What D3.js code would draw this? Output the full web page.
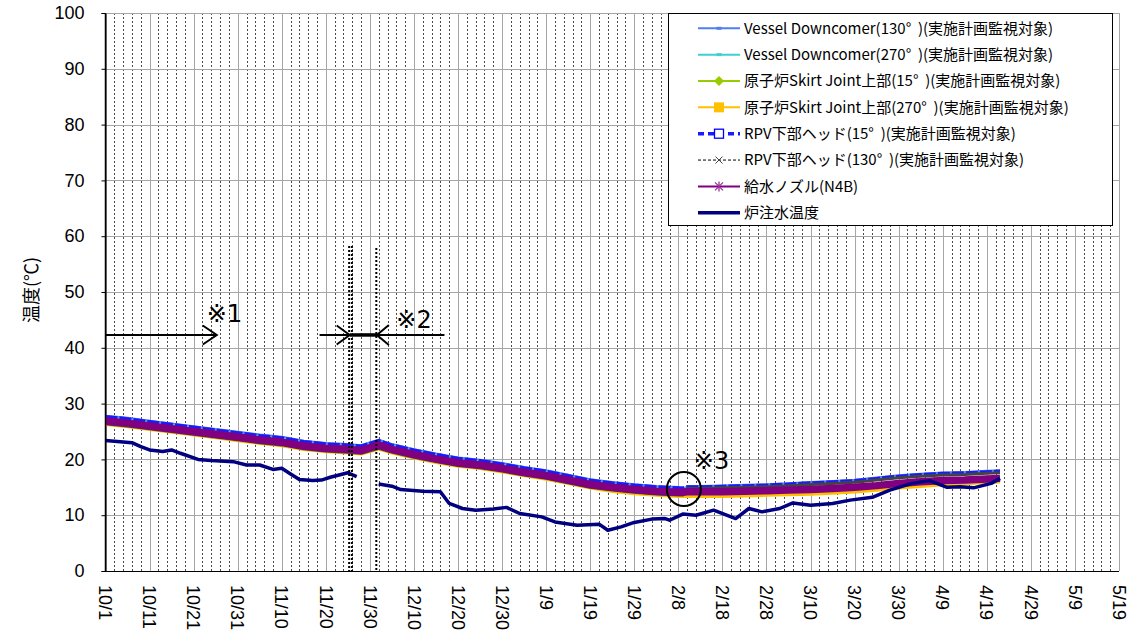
<!DOCTYPE html>
<html><head><meta charset="utf-8">
<script src="https://cdn.jsdelivr.net/npm/d3@7"></script>
<style>body{margin:0;background:#fff;} svg{display:block;}</style>
</head><body><svg id="c" width="1146" height="634"></svg>
<script>
// ---------------- DATA ----------------
const bandDates = ["10/1","10/6","10/11","10/16","10/21","10/26","10/31","11/5","11/10","11/15","11/20","11/25","11/28","12/2","12/5","12/10","12/15","12/20","12/25","12/30","1/4","1/9","1/14","1/19","1/24","1/29","2/3","2/8","2/9","2/10","2/13","2/18","2/23","2/28","3/5","3/10","3/15","3/20","3/25","3/30","4/4","4/9","4/14","4/19","4/22"];
const vessel130 = [27.8,27.4,26.9,26.4,25.9,25.4,24.9,24.4,24.0,23.3,22.9,22.7,22.5,23.5,22.7,21.8,21.0,20.3,19.9,19.3,18.6,18.0,17.2,16.4,15.9,15.5,15.2,15.0,14.2,15.2,15.2,15.3,15.4,15.5,15.7,15.9,16.1,16.3,16.7,17.1,17.4,17.6,17.7,17.9,18.0];
const vessel270 = [27.5,27.1,26.6,26.1,25.6,25.1,24.6,24.1,23.7,23.0,22.6,22.4,22.2,23.2,22.4,21.5,20.7,20.0,19.6,19.0,18.3,17.7,16.9,16.1,15.6,15.2,14.9,14.7,14.6,14.9,14.9,15.0,15.1,15.2,15.4,15.6,15.8,16.0,16.4,16.8,17.1,17.3,17.4,17.6,17.7];
const skirt15 = [26.6,26.2,25.7,25.2,24.7,24.2,23.7,23.2,22.8,22.1,21.7,21.5,21.3,22.3,21.5,20.6,19.8,19.1,18.7,18.1,17.4,16.8,16.0,15.2,14.7,14.3,14.0,13.8,13.8,13.9,13.9,13.9,14.0,14.1,14.2,14.3,14.5,14.7,15.0,15.4,15.7,15.9,16.0,16.2,16.3];
const skirt270 = [26.3,25.9,25.4,24.9,24.4,23.9,23.4,22.9,22.5,21.8,21.4,21.2,21.0,21.9,21.2,20.3,19.5,18.8,18.4,17.8,17.1,16.5,15.7,14.9,14.3,13.9,13.6,13.4,13.4,13.4,13.4,13.4,13.5,13.6,13.7,13.8,14.0,14.2,14.5,14.9,15.2,15.5,15.7,15.9,16.0];
const rpv15 = [27.7,27.3,26.8,26.3,25.8,25.3,24.8,24.3,23.9,23.2,22.8,22.6,22.4,23.4,22.6,21.7,20.9,20.2,19.8,19.2,18.5,17.9,17.1,16.3,15.8,15.4,15.1,14.9,14.9,15.1,15.1,15.2,15.3,15.4,15.6,15.8,16.0,16.2,16.6,17.0,17.3,17.5,17.6,17.8,17.9];
const rpv130 = [26.4,26.0,25.5,25.0,24.5,24.0,23.5,23.0,22.6,21.9,21.5,21.3,21.1,22.0,21.3,20.4,19.6,18.9,18.5,17.9,17.2,16.6,15.8,15.0,14.5,14.1,13.8,13.6,13.6,14.8,14.8,14.9,15.0,15.1,15.3,15.5,15.7,15.9,16.3,16.7,17.0,17.2,17.3,17.5,17.6];
const feedNozzle = [26.9,26.5,26.0,25.5,25.0,24.5,24.0,23.5,23.1,22.4,22.0,21.8,21.6,22.6,21.8,20.9,20.1,19.4,19.0,18.4,17.7,17.1,16.3,15.5,15.0,14.6,14.3,14.1,14.1,14.2,14.2,14.2,14.3,14.4,14.5,14.6,14.8,15.0,15.3,15.7,16.0,16.2,16.3,16.5,16.6];

const injDates = ["10/1","10/7","10/9","10/11","10/14","10/16","10/18","10/22","10/25","10/30","11/2","11/5","11/8","11/10","11/12","11/14","11/17","11/19","11/21","11/23","11/25","11/27","11/29","12/2","12/5","12/7","12/12","12/16","12/18","12/21","12/24","12/28","12/31","1/3","1/8","1/11","1/16","1/21","1/23","1/26","1/29","2/2","2/5","2/6","2/9","2/12","2/16","2/21","2/24","2/27","3/3","3/6","3/10","3/15","3/19","3/24","3/28","4/2","4/6","4/10","4/13","4/16","4/20","4/22"];
const injTemp = [23.4,23.0,22.3,21.7,21.4,21.7,21.1,20.0,19.8,19.6,19.0,19.0,18.2,18.4,17.4,16.4,16.2,16.3,16.8,17.2,17.6,16.9,null,15.6,15.2,14.6,14.3,14.2,12.1,11.2,10.9,11.1,11.4,10.3,9.7,8.8,8.2,8.4,7.3,7.9,8.7,9.3,9.4,9.1,10.2,10.0,10.9,9.4,11.2,10.6,11.2,12.2,11.8,12.1,12.7,13.2,14.5,15.7,16.2,15.0,15.1,14.9,15.7,16.6];

const yTicks = [0,10,20,30,40,50,60,70,80,90,100];
const xTickLabels = ["10/1","10/11","10/21","10/31","11/10","11/20","11/30","12/10","12/20","12/30","1/9","1/19","1/29","2/8","2/18","2/28","3/10","3/20","3/30","4/9","4/19","4/29","5/9","5/19"];
const yTitle = "温度(℃)";
const legendLabels = [
  "Vessel Downcomer(130°  )(実施計画監視対象)",
  "Vessel Downcomer(270°  )(実施計画監視対象)",
  "原子炉Skirt Joint上部(15°  )(実施計画監視対象)",
  "原子炉Skirt Joint上部(270°  )(実施計画監視対象)",
  "RPV下部ヘッド(15°  )(実施計画監視対象)",
  "RPV下部ヘッド(130°  )(実施計画監視対象)",
  "給水ノズル(N4B)",
  "炉注水温度"
];

// ---------------- SETUP ----------------
function pd(s){
  const parts = s.split(" ");
  const [m,d] = parts[0].split("/").map(Number);
  const h = parts[1] ? +parts[1] : 0;
  return new Date(m >= 10 ? 2012 : 2013, m-1, d, h);
}
const svg = d3.select("#c");
const L = 105.5, R = 1119, T = 13, B = 571;
const x = d3.scaleTime().domain([pd("10/1"), pd("5/19")]).range([L, R]);
const y = d3.scaleLinear().domain([0,100]).range([B, T]);

// grid: vertical every 2 days, solid at labeled ticks
const gridDays = d3.timeDay.range(pd("10/1"), d3.timeDay.offset(pd("5/19"),1), 2);
const labeledSet = new Set(xTickLabels.map(s => +pd(s)));
const gv = svg.append("g");
gridDays.forEach(d => {
  const solid = labeledSet.has(+d);
  if (+d === +pd("10/1")) return;
  gv.append("line").attr("x1", Math.round(x(d))+0.5).attr("x2", Math.round(x(d))+0.5)
    .attr("y1", T).attr("y2", B)
    .attr("stroke", solid ? "#a6a6a6" : "#4a4a4a")
    .attr("stroke-width", 1)
    .attr("stroke-dasharray", solid ? null : "2,2");
});
// horizontal grid
svg.append("g").selectAll("line").data(yTicks.filter(v => v > 0)).join("line")
  .attr("x1", L).attr("x2", R)
  .attr("y1", d => Math.round(y(d))+0.5).attr("y2", d => Math.round(y(d))+0.5)
  .attr("stroke", "#a6a6a6").attr("stroke-width", 1);

// axes
const yAxis = d3.axisLeft(y).tickValues(yTicks).tickSize(4).tickPadding(17);
const ga = svg.append("g").attr("transform", `translate(${L},0)`).call(yAxis);
ga.select(".domain").attr("stroke", "#000");
ga.selectAll(".tick line").attr("stroke", "#000");
ga.selectAll("text").attr("font-family", "Liberation Sans, Arial, sans-serif").attr("font-size", 18).attr("fill", "#000");
svg.append("line").attr("x1", L).attr("x2", R).attr("y1", B+0.5).attr("y2", B+0.5).attr("stroke", "#000").attr("stroke-width", 1.2);

// x labels (rotated)
svg.append("g").selectAll("text").data(xTickLabels).join("text")
  .attr("transform", d => `translate(${x(pd(d))},585) rotate(90)`)
  .attr("dy", "0.35em")
  .attr("font-family", "Liberation Sans, Arial, sans-serif").attr("font-size", 18).attr("fill", "#000")
  .text(d => d);

// y title
svg.append("text").attr("transform", "translate(32,290) rotate(-90)")
  .attr("text-anchor", "middle").attr("dy", "0.35em")
  .attr("font-family", "Noto Sans CJK JP, sans-serif").attr("font-size", 18).attr("fill", "#000")
  .text(yTitle);

// ---------------- SERIES ----------------
const series = [
  {name: legendLabels[0], dates: bandDates, vals: vessel130, color: "#4f7ff0", w: 2.5, dash: null, marker: "sq-small", mcol: "#4f7ff0"},
  {name: legendLabels[1], dates: bandDates, vals: vessel270, color: "#3fcfcf", w: 2.5, dash: null, marker: "sq-small", mcol: "#3fcfcf"},
  {name: legendLabels[2], dates: bandDates, vals: skirt15, color: "#99cc00", w: 3, dash: null, marker: "diamond", mcol: "#99cc00"},
  {name: legendLabels[3], dates: bandDates, vals: skirt270, color: "#ffc000", w: 3.5, dash: null, marker: "square", mcol: "#ffc000"},
  {name: legendLabels[4], dates: bandDates, vals: rpv15, color: "#1a1aff", w: 3, dash: "12,2", marker: "sq-open", mcol: "#0000ff"},
  {name: legendLabels[5], dates: bandDates, vals: rpv130, color: "#444", w: 3, dash: null, marker: "x", mcol: "#444"},
  {name: legendLabels[6], dates: bandDates, vals: feedNozzle, color: "#800080", w: 7.5, dash: null, marker: "star", mcol: "#993399"},
  {name: legendLabels[7], dates: injDates, vals: injTemp, color: "#000080", w: 3.5, dash: null, marker: null, mcol: null}
];
const line = d3.line().defined(d => d[1] != null).x(d => x(d[0])).y(d => y(d[1])).curve(d3.curveLinear);
const plot = svg.append("g");
series.forEach(s => {
  const pts = s.dates.map((dd,i) => [pd(dd), s.vals[i]]);
  plot.append("path").datum(pts).attr("d", line)
    .attr("fill", "none").attr("stroke", s.color).attr("stroke-width", s.w)
    .attr("stroke-dasharray", s.dash).attr("stroke-linejoin", "round");
});

// ---------------- ANNOTATIONS ----------------
const ann = svg.append("g").attr("stroke", "#000").attr("fill", "none");
const aY = y(42.3);
// ※1 arrow
const a1x0 = x(pd("10/1")), a1x1 = x(pd("10/26 6"));
ann.append("line").attr("x1", a1x0).attr("x2", a1x1).attr("y1", aY).attr("y2", aY).attr("stroke-width", 2);
ann.append("path").attr("d", `M${a1x1-14},${aY-9.5}L${a1x1},${aY}L${a1x1-14},${aY+9.5}`).attr("stroke-width", 2);
// dotted vertical lines
[["11/25 7", 246], ["11/25 22", 246], ["12/1 11", 248]].forEach(([d, top]) => {
  ann.append("line").attr("x1", x(pd(d))).attr("x2", x(pd(d))).attr("y1", top).attr("y2", B)
    .attr("stroke-width", 2).attr("stroke-dasharray", "2,2");
});
// ※2 arrows
const l0 = x(pd("11/18 14")), lt = x(pd("11/25 10")), rt = x(pd("12/1 14")), r0 = x(pd("12/16 22"));
ann.append("line").attr("x1", l0).attr("x2", r0).attr("y1", aY).attr("y2", aY).attr("stroke-width", 2);
ann.append("line").attr("x1", lt).attr("x2", rt).attr("y1", aY).attr("y2", aY).attr("stroke-width", 3.5);
ann.append("path").attr("d", `M${lt-13},${aY-9.5}L${lt},${aY}L${lt-13},${aY+9.5}`).attr("stroke-width", 2);
ann.append("path").attr("d", `M${rt+12},${aY-10}L${rt},${aY}L${rt+12},${aY+10}`).attr("stroke-width", 2);
// ※3 circle
ann.append("circle").attr("cx", x(pd("2/9 6"))).attr("cy", y(14.7)).attr("r", 17).attr("stroke-width", 2);

const annText = [["※1", "10/24", 322], ["※2", "12/6", 328], ["※3", "2/11 12", 469]];
svg.append("g").selectAll("text").data(annText).join("text")
  .attr("x", d => x(pd(d[1]))).attr("y", d => d[2])
  .attr("font-family", "DejaVu Sans, sans-serif").attr("font-size", 24).attr("fill", "#000")
  .text(d => d[0]);

// ---------------- BORDER ----------------
svg.append("line").attr("x1", L).attr("x2", R).attr("y1", T+0.5).attr("y2", T+0.5).attr("stroke", "#a6a6a6");
svg.append("line").attr("x1", R+0.5).attr("x2", R+0.5).attr("y1", T).attr("y2", B).attr("stroke", "#a6a6a6");
svg.append("line").attr("x1", L).attr("x2", L).attr("y1", T).attr("y2", B+1).attr("stroke", "#000").attr("stroke-width", 1.5);

// ---------------- LEGEND ----------------
const lg = svg.append("g");
lg.append("rect").attr("x", 668.5).attr("y", 13.5).attr("width", 444).attr("height", 212)
  .attr("fill", "#fff").attr("stroke", "#000").attr("stroke-width", 1);
function marker(g, type, cx, cy, col) {
  if (type === "sq-small") g.append("rect").attr("x", cx-2.5).attr("y", cy-1.5).attr("width", 5).attr("height", 3).attr("fill", col);
  else if (type === "diamond") g.append("path").attr("d", `M${cx},${cy-5}L${cx+5},${cy}L${cx},${cy+5}L${cx-5},${cy}Z`).attr("fill", col);
  else if (type === "square") g.append("rect").attr("x", cx-5).attr("y", cy-5).attr("width", 10).attr("height", 10).attr("fill", col);
  else if (type === "sq-open") g.append("rect").attr("x", cx-4.5).attr("y", cy-4.5).attr("width", 9).attr("height", 9).attr("fill", "#fff").attr("stroke", col).attr("stroke-width", 1.3);
  else if (type === "x") g.append("path").attr("d", `M${cx-3.5},${cy-3.5}L${cx+3.5},${cy+3.5}M${cx-3.5},${cy+3.5}L${cx+3.5},${cy-3.5}`).attr("stroke", col).attr("stroke-width", 1);
  else if (type === "star") g.append("path").attr("d", `M${cx-4},${cy-4}L${cx+4},${cy+4}M${cx-4},${cy+4}L${cx+4},${cy-4}M${cx},${cy-5}L${cx},${cy+5}`).attr("stroke", col).attr("stroke-width", 1.3);
}
const legW = {0:2, 1:2, 2:2, 3:2, 4:3.5, 5:1, 6:2, 7:3.5};
const legDash = {4: "6,4", 5: "3,2"};
series.forEach((s, i) => {
  const cy = 28.3 + i * 26.35;
  const g = lg.append("g");
  g.append("line").attr("x1", 698).attr("x2", 740).attr("y1", cy).attr("y2", cy)
    .attr("stroke", i === 5 ? "#000" : s.color).attr("stroke-width", legW[i]).attr("stroke-dasharray", legDash[i] || null);
  if (s.marker) marker(g, s.marker, 719, cy, s.mcol);
  g.append("text").attr("x", 744).attr("y", cy).attr("dy", "0.35em")
    .style("white-space", "pre")
    .attr("font-family", "Noto Sans CJK JP, sans-serif").attr("font-size", 15).attr("fill", "#000")
    .text(s.name);
});
</script></body></html>
